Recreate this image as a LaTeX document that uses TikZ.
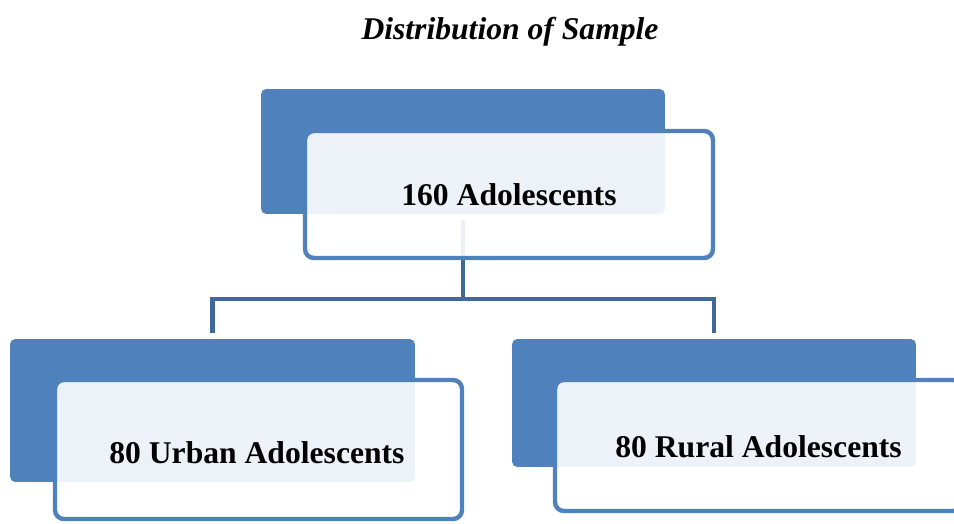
\documentclass[tikz,border=0pt]{standalone}
\usepackage{fontspec}
\setmainfont{Liberation Serif}
\usetikzlibrary{positioning}

\definecolor{boxblue}{HTML}{4F81BD}
\definecolor{linkblue}{HTML}{41689A}

\tikzset{
  backbox/.style={fill=boxblue, rounded corners=3pt, inner sep=0pt},
  frontbox/.style={draw=boxblue, line width=2.5pt, fill=white, fill opacity=0.9, rounded corners=5pt, inner sep=0pt},
  boxtext/.style={font=\bfseries\fontsize{18}{21}\selectfont, anchor=base west, inner sep=0pt},
  link/.style={draw=linkblue, line width=2.8pt}
}

\begin{document}
\begin{tikzpicture}[x=0.02cm, y=-0.02cm]
  \useasboundingbox (0,0) rectangle (954,524);
  \clip (0,0) rectangle (954,524);
  % title
  \node[font=\bfseries\itshape\fontsize{18}{21}\selectfont, anchor=base, inner sep=0pt] (title) at (510,39) {Distribution of Sample};
  % blue back boxes
  \node[backbox, minimum width=8.08cm, minimum height=2.5cm] (top) at (463,151.5) {};
  \node[backbox, minimum width=8.1cm, minimum height=2.86cm] (urban) at (212.5,410.5) {};
  \node[backbox, minimum width=8.08cm, minimum height=2.56cm] (rural) at (714,403) {};
  % connectors
  \coordinate (bus) at (463,299);
  \draw[link] ([yshift=-3pt]top.south) -- (bus);
  \draw[link] ([yshift=3.4pt]urban.north) |- (bus) -| ([yshift=3.4pt]rural.north);
  % framed front boxes
  \node[frontbox, minimum width=8.16cm, minimum height=2.54cm] (topframe) at (509,194.5) {};
  \node[frontbox, minimum width=8.14cm, minimum height=2.78cm] (urbanframe) at (258.5,449.5) {};
  \node[frontbox, minimum width=8.14cm, minimum height=2.62cm] (ruralframe) at (758.5,445.5) {};
  % texts
  \node[boxtext] (toptext) at (401,205) {160 Adolescents};
  \node[boxtext] (urbantext) at (109,463) {80 Urban Adolescents};
  \node[boxtext] (ruraltext) at (615,457) {80 Rural Adolescents};
\end{tikzpicture}
\end{document}
